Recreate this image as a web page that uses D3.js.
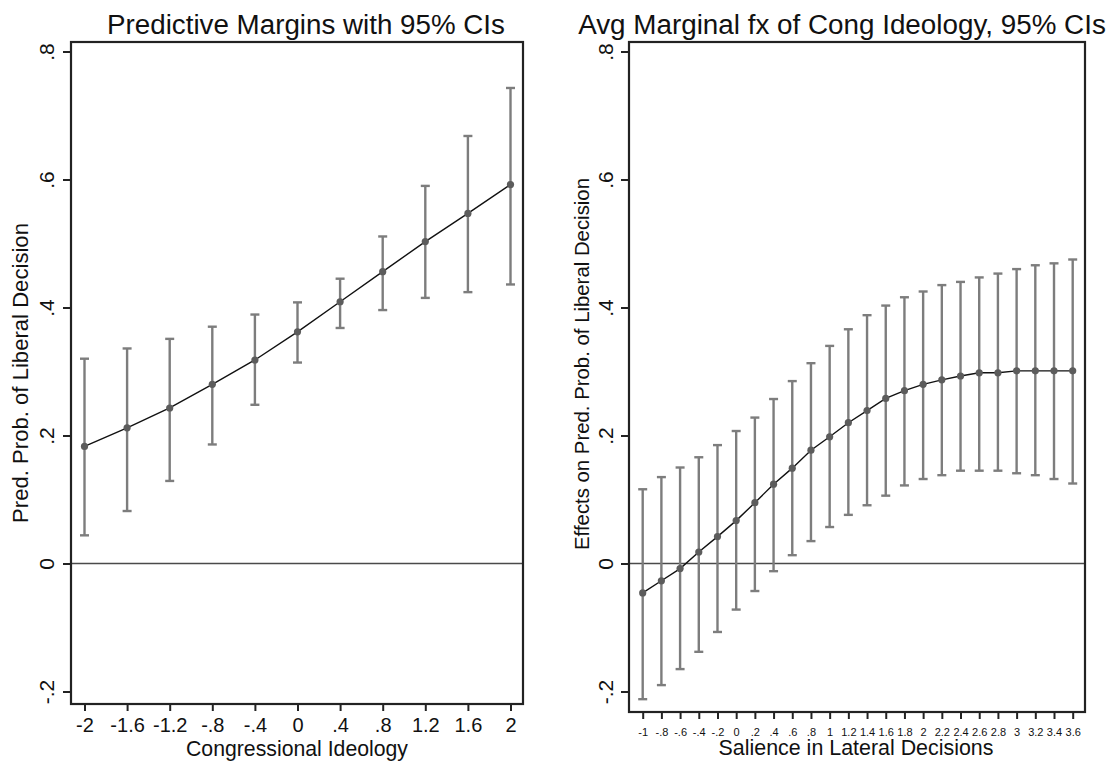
<!DOCTYPE html>
<html>
<head>
<meta charset="utf-8">
<script src="https://cdn.jsdelivr.net/npm/d3@7"></script>
<style>
  html, body { margin: 0; padding: 0; background: #fff; }
  svg text { font-family: "Liberation Sans", Arial, sans-serif; fill: #111; }
</style>
</head>
<body>
<svg id="chart" width="1116" height="761"></svg>
<script>
// ---------- data ----------
const leftX = [-2, -1.6, -1.2, -0.8, -0.4, 0, 0.4, 0.8, 1.2, 1.6, 2];
const leftMargin = [0.183, 0.212, 0.243, 0.280, 0.318, 0.362, 0.409, 0.456, 0.503, 0.547, 0.592];
const leftLower  = [0.044, 0.082, 0.129, 0.186, 0.248, 0.314, 0.368, 0.396, 0.415, 0.424, 0.436];
const leftUpper  = [0.320, 0.336, 0.351, 0.370, 0.389, 0.408, 0.445, 0.511, 0.590, 0.668, 0.743];
const leftXLabels = ["-2", "-1.6", "-1.2", "-.8", "-.4", "0", ".4", ".8", "1.2", "1.6", "2"];

const rightX = [-1, -0.8, -0.6, -0.4, -0.2, 0, 0.2, 0.4, 0.6, 0.8, 1, 1.2, 1.4, 1.6, 1.8, 2, 2.2, 2.4, 2.6, 2.8, 3, 3.2, 3.4, 3.6];
const rightEffect = [-0.046, -0.027, -0.008, 0.018, 0.042, 0.067, 0.095, 0.124, 0.149, 0.177, 0.198, 0.220, 0.239, 0.258, 0.270, 0.280, 0.287, 0.293, 0.298, 0.298, 0.301, 0.301, 0.301, 0.301];
const rightLower  = [-0.212, -0.190, -0.165, -0.138, -0.107, -0.072, -0.043, -0.012, 0.013, 0.035, 0.057, 0.076, 0.091, 0.106, 0.122, 0.132, 0.138, 0.145, 0.145, 0.145, 0.141, 0.138, 0.132, 0.125];
const rightUpper  = [0.116, 0.135, 0.150, 0.166, 0.185, 0.207, 0.228, 0.257, 0.285, 0.313, 0.340, 0.366, 0.388, 0.403, 0.416, 0.425, 0.435, 0.440, 0.447, 0.453, 0.460, 0.466, 0.469, 0.475];
const rightXLabels = ["-1", "-.8", "-.6", "-.4", "-.2", "0", ".2", ".4", ".6", ".8", "1", "1.2", "1.4", "1.6", "1.8", "2", "2.2", "2.4", "2.6", "2.8", "3", "3.2", "3.4", "3.6"];

const yTicks = [-0.2, 0, 0.2, 0.4, 0.6, 0.8];
const yLabels = ["-.2", "0", ".2", ".4", ".6", ".8"];

const titles = ["Predictive Margins with 95% CIs", "Avg Marginal fx of Cong Ideology, 95% CIs"];
const xTitles = ["Congressional Ideology", "Salience in Lateral Decisions"];
const yTitles = ["Pred. Prob. of Liberal Decision", "Effects on Pred. Prob. of Liberal Decision"];

// ---------- layout ----------
const svg = d3.select("#chart");

const panels = [
  {
    frame: {x0: 71, x1: 523, y0: 42, y1: 704},
    xDomain: [-2, 2], xRange: [84.5, 510.5],
    xs: leftX, mid: leftMargin, lo: leftLower, hi: leftUpper, xLabels: leftXLabels,
    xTickFont: 20, xTickBase: 28, xTitleBase: 756, xTitleX: 297,
    titleX: 306, titleW: 398, yTitleX: 28, yTitleY: 373, yTitleW: 300,
    xTitleW: 222, yLabOff: 17
  },
  {
    frame: {x0: 629, x1: 1085, y0: 42, y1: 712},
    xDomain: [-1, 3.6], xRange: [642.7, 1072.7],
    xs: rightX, mid: rightEffect, lo: rightLower, hi: rightUpper, xLabels: rightXLabels,
    xTickFont: 11, xTickBase: 24, xTitleBase: 755, xTitleX: 856,
    titleX: 842, titleW: 528, yTitleX: 589, yTitleY: 364, yTitleW: 372,
    xTitleW: 275, yLabOff: 16
  }
];

const yRange = [691.5, 51.5];
const fitText = (sel, width) => {
  const len = sel.node().getComputedTextLength();
  const fs = parseFloat(sel.attr("font-size"));
  sel.attr("font-size", fs * width / len);
};

panels.forEach((p, i) => {
  const f = p.frame;
  const x = d3.scaleLinear().domain(p.xDomain).range(p.xRange);
  const y = d3.scaleLinear().domain([-0.2, 0.8]).range(yRange);
  const g = svg.append("g");

  // zero line
  g.append("line")
    .attr("x1", f.x0).attr("x2", f.x1)
    .attr("y1", y(0)).attr("y2", y(0))
    .attr("stroke", "#4a4a4a").attr("stroke-width", 1.6);

  // error bars
  const cap = 4.5;
  const eb = g.append("g").attr("stroke", "#7d7d7d").attr("stroke-width", 2.4).attr("fill", "none");
  p.xs.forEach((xv, k) => {
    const cx = x(xv);
    eb.append("line").attr("x1", cx).attr("x2", cx).attr("y1", y(p.lo[k])).attr("y2", y(p.hi[k]));
    eb.append("line").attr("x1", cx - cap).attr("x2", cx + cap).attr("y1", y(p.lo[k])).attr("y2", y(p.lo[k]));
    eb.append("line").attr("x1", cx - cap).attr("x2", cx + cap).attr("y1", y(p.hi[k])).attr("y2", y(p.hi[k]));
  });

  // connecting line
  const line = d3.line().x((d) => x(d[0])).y((d) => y(d[1]));
  g.append("path")
    .datum(p.xs.map((xv, k) => [xv, p.mid[k]]))
    .attr("d", line)
    .attr("fill", "none").attr("stroke", "#111").attr("stroke-width", 1.4);

  // points
  g.selectAll("circle.pt").data(p.xs.map((xv, k) => [xv, p.mid[k]])).enter()
    .append("circle").attr("class", "pt")
    .attr("cx", (d) => x(d[0])).attr("cy", (d) => y(d[1]))
    .attr("r", 3.6).attr("fill", "#5c5c5c");

  // frame
  g.append("rect")
    .attr("x", f.x0).attr("y", f.y0)
    .attr("width", f.x1 - f.x0).attr("height", f.y1 - f.y0)
    .attr("fill", "none").attr("stroke", "#222").attr("stroke-width", 2.2);

  // x axis
  const xAxis = d3.axisBottom(x).tickValues(p.xs).tickSize(7).tickSizeOuter(0)
    .tickFormat((d, k) => p.xLabels[k]);
  const gx = g.append("g").attr("transform", `translate(0,${f.y1})`).call(xAxis);
  gx.select(".domain").remove();
  gx.selectAll(".tick line").attr("stroke", "#222").attr("stroke-width", 2);
  gx.selectAll(".tick text")
    .attr("y", p.xTickBase).attr("dy", 0)
    .attr("font-size", p.xTickFont)
    .attr("font-family", "'Liberation Sans', Arial, sans-serif")
    .attr("fill", "#111");

  // y axis
  const yAxis = d3.axisLeft(y).tickValues(yTicks).tickSize(8).tickSizeOuter(0)
    .tickFormat((d, k) => yLabels[k]);
  const gy = g.append("g").attr("transform", `translate(${f.x0},0)`).call(yAxis);
  gy.select(".domain").remove();
  gy.selectAll(".tick line").attr("stroke", "#222").attr("stroke-width", 2);
  gy.selectAll(".tick text")
    .attr("x", 0).attr("y", 0).attr("dy", 0)
    .attr("transform", `translate(${-p.yLabOff},0) rotate(-90)`)
    .attr("text-anchor", "middle")
    .attr("font-size", 21)
    .attr("font-family", "'Liberation Sans', Arial, sans-serif")
    .attr("fill", "#111");

  // titles
  const t = svg.append("text").attr("x", p.titleX).attr("y", 34)
    .attr("text-anchor", "middle").attr("font-size", 27).text(titles[i]);
  fitText(t, p.titleW);

  const xt = svg.append("text").attr("x", p.xTitleX).attr("y", p.xTitleBase)
    .attr("text-anchor", "middle").attr("font-size", 21).text(xTitles[i]);
  fitText(xt, p.xTitleW);

  const yt = svg.append("text")
    .attr("transform", `translate(${p.yTitleX},${p.yTitleY}) rotate(-90)`)
    .attr("text-anchor", "middle").attr("font-size", 21).text(yTitles[i]);
  fitText(yt, p.yTitleW);
});
</script>
</body>
</html>
